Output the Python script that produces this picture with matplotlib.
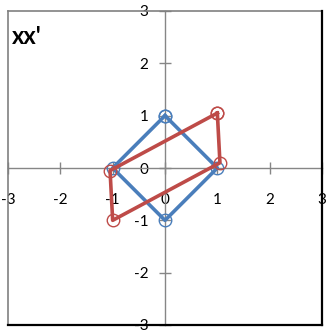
import matplotlib
matplotlib.use("Agg")
import matplotlib.pyplot as plt
from matplotlib.lines import Line2D

plt.rcParams['font.family'] = ['Lato', 'DejaVu Sans']

# original square x and transformed square x'
x_vals = [0, 1, 0, -1, 0]
y_vals = [1, 0, -1, 0, 1]
xp_vals = [1.0, 1.05, -1.0, -1.05, 1.0]
yp_vals = [1.05, 0.1, -1.0, -0.05, 1.05]
ticks = [-3, -2, -1, 0, 1, 2, 3]
title = "xx'"

blue = '#4A7EBB'
red = '#BE4B48'
axis_gray = '#868686'

W, H = 327, 332
fig = plt.figure(figsize=(W / 100, H / 100), dpi=100)
ax = fig.add_axes([8 / W, (H - 325) / H, 314 / W, 314 / H])

ax.plot(x_vals, y_vals, color=blue, lw=2.6, marker='o', ms=9,
        mfc='none', mec=blue, mew=1.0, zorder=3)
ax.plot(xp_vals, yp_vals, color=red, lw=2.6, marker='o', ms=9,
        mfc='none', mec=red, mew=1.0, zorder=4)

ax.set_xlim(-3, 3)
ax.set_ylim(-3, 3)
ax.set_xticks(ticks)
ax.set_yticks(ticks)
ax.set_xticklabels([str(t) for t in ticks])
ax.set_yticklabels([str(t) for t in ticks])

# axes crossing at the origin
for side in ['left', 'bottom']:
    ax.spines[side].set_position('zero')
    ax.spines[side].set_color(axis_gray)
    ax.spines[side].set_linewidth(1.0)
for side in ['top', 'right']:
    ax.spines[side].set_visible(False)

ax.tick_params(axis='both', direction='inout', length=8, width=1.0,
               color=axis_gray, labelsize=11, labelcolor='#000000')
ax.tick_params(axis='x', pad=14)
ax.tick_params(axis='y', pad=8)
for lab in ax.get_xticklabels() + ax.get_yticklabels():
    lab.set_clip_on(False)

# outer frame of the chart
fig.add_artist(Line2D([8 / W, 322 / W], [(H - 11) / H, (H - 11) / H],
                      color='#808080', lw=1.2, transform=fig.transFigure))
fig.add_artist(Line2D([8 / W, 8 / W], [(H - 11) / H, (H - 325) / H],
                      color='#808080', lw=1.2, transform=fig.transFigure))
fig.add_artist(Line2D([322 / W, 322 / W], [(H - 11) / H, (H - 325) / H],
                      color='#000000', lw=1.6, transform=fig.transFigure))
fig.add_artist(Line2D([8 / W, 322 / W], [(H - 325) / H, (H - 325) / H],
                      color='#000000', lw=1.6, transform=fig.transFigure))

fig.text(12 / W, (H - 44) / H, title, fontsize=17, fontweight='bold',
         ha='left', va='baseline')

fig.savefig('out.png', dpi=100)
